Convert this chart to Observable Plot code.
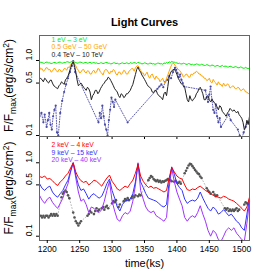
<!DOCTYPE html>
<html><head><meta charset="utf-8">
<script src="https://cdn.jsdelivr.net/npm/d3@7"></script>
<script src="https://cdn.jsdelivr.net/npm/@observablehq/plot@0.6"></script>
<style>
html,body{margin:0;padding:0;background:#fff;}
#chart{position:relative;width:274px;height:274px;font-family:"Liberation Sans",Arial,sans-serif;}
#chart svg{position:absolute;left:0;overflow:visible;background:none;}
</style></head><body><div id="chart"></div>
<script>
// ---- data ----
// top panel, 2 ks sampling 1188..1512
const time2 = [1188,1190,1192,1194,1196,1198,1200,1202,1204,1206,1208,1210,1212,1214,1216,1218,1220,1222,1224,1226,
  1228,1230,1232,1234,1236,1238,1240,1242,1244,1246,1248,1250,1252,1254,1256,1258,1260,1262,1264,1266,
  1268,1270,1272,1274,1276,1278,1280,1282,1284,1286,1288,1290,1292,1294,1296,1298,1300,1302,1304,1306,
  1308,1310,1312,1314,1316,1318,1320,1322,1324,1326,1328,1330,1332,1334,1336,1338,1340,1342,1344,1346,
  1348,1350,1352,1354,1356,1358,1360,1362,1364,1366,1368,1370,1372,1374,1376,1378,1380,1382,1384,1386,
  1388,1390,1392,1394,1396,1398,1400,1402,1404,1406,1408,1410,1412,1414,1416,1418,1420,1422,1424,1426,
  1428,1430,1432,1434,1436,1438,1440,1442,1444,1446,1448,1450,1452,1454,1456,1458,1460,1462,1464,1466,
  1468,1470,1472,1474,1476,1478,1480,1482,1484,1486,1488,1490,1492,1494,1496,1498,1500,1502,1504,1506,1508,1510,1512];
const optical = [.93,.95,.94,.92,.92,.95,.95,.93,.93,.91, .92,.94,.94,.92,.93,.95,.95,.93,.92,.94,
  .94,.96,.96,.94,.95,.97,.98,.95,.94,.92, .93,.95,.95,.93,.92,.94,.94,.92,.93,.95,
  .92,.93,.94,.92,.93,.91,.91,.93,.93,.91, .92,.94,.94,.92,.92,.90,.91,.93,.93,.91,
  .92,.90,.90,.92,.93,.91,.91,.93,.92,.90, .94,.92,.92,.94,.93,.91,.95,.93,.92,.90,
  .91,.93,.92,.90,.90,.92,.92,.90,.91,.89, .90,.92,.92,.90,.91,.89,.93,.91,.94,.92,
  .96,.94,.97,.95,.95,.93,.93,.91,.92,.90, .90,.92,.91,.89,.89,.91,.90,.88,.89,.87,
  .88,.90,.89,.87,.87,.89,.88,.86,.86,.88, .87,.85,.85,.87,.86,.84,.84,.86,.85,.83,
  .84,.86,.83,.84,.84,.82,.82,.84,.83,.81, .81,.83,.82,.80,.80,.82,.81,.79,.79,.81, .79,.78,.79];
const gev = [.82,.76,.78,.72,.74,.80,.80,.75,.76,.70, .72,.78,.78,.73,.70,.76,.75,.70,.73,.78,
  .78,.74,.82,.80,.88,.92,.97,.90,.85,.78, .74,.68,.70,.75,.76,.70,.68,.73,.72,.66,
  .66,.72,.74,.68,.70,.78,.77,.70,.68,.64, .72,.76,.75,.70,.66,.72,.70,.76,.73,.66,
  .64,.70,.70,.65,.68,.74,.72,.66,.66,.72, .74,.78,.78,.72,.80,.84,.85,.80,.74,.68,
  .68,.62,.66,.70,.62,.58,.64,.66,.60,.56, .62,.58,.57,.52,.55,.58,.52,.50,.58,.64,
  .72,.80,.88,.92,.90,.84,.80,.76,.74,.70, .66,.60,.62,.66,.65,.60,.60,.66,.64,.68,
  .68,.72,.70,.66,.66,.62,.62,.58,.58,.54, .55,.58,.52,.50,.56,.52,.50,.47,.52,.48,
  .48,.45,.50,.46,.46,.49,.47,.43,.44,.46, .45,.42,.42,.44,.43,.40,.40,.42,.41,.38, .38,.36,.37];
const tev = [.57,.58,.55,.52,.58,.56,.52,.50,.54,.55, .50,.46,.45,.43,.42,.46,.48,.52,.50,.48,
  .55,.58,.62,.70,.80,.90,.97,.85,.70,.55, .46,.48,.50,.47,.44,.42,.40,.44,.42,.38,
  .30,.34,.36,.40,.40,.36,.38,.42,.45,.48, .50,.54,.55,.60,.58,.54,.50,.46,.42,.40,
  .38,.34,.32,.36,.35,.32,.33,.36,.36,.38, .40,.44,.48,.56,.65,.76,.82,.74,.70,.64,
  .60,.56,.52,.48,.45,.44,.42,.38,.37,.40, .40,.36,.34,.33,.32,.30,.36,.38,.34,.45,
  .60,.68,.73,.75,.77,.72,.65,.58,.54,.50, .48,.46,.44,.36,.30,.28,.34,.30,.29,.31,
  .32,.36,.38,.42,.44,.40,.36,.30,.30,.33, .34,.30,.28,.30,.29,.27,.26,.24,.22,.25,
  .24,.21,.20,.19,.18,.20,.21,.23,.22,.21, .22,.21,.20,.21,.19,.18,.17,.15,.12,.13, .16,.14,.18];
// bottom panel, 4 ks sampling 1188..1512
const time = [1188,1192,1196,1200,1204,1208,1212,1216,1220,1224,1228,1232,1236,1240,1244,1248,1252,1256,1260,1264,
  1268,1272,1276,1280,1284,1288,1292,1296,1300,1304,1308,1312,1316,1320,1324,1328,1332,1336,1340,1344,
  1348,1352,1356,1360,1364,1368,1372,1376,1380,1384,1388,1392,1396,1400,1404,1408,1412,1416,1420,1424,
  1428,1432,1436,1440,1444,1448,1452,1456,1460,1464,1468,1472,1476,1480,1484,1488,1492,1496,1500,1504,1508,1512];
const keV2_4 = [.65,.63,.66,.60,.61,.57,.52,.49,.55,.59,.66,.72,.85,1.0,.75,.63,.57,.54,.56,.50,
  .53,.58,.56,.52,.48,.55,.62,.68,.56,.50,.44,.42,.45,.48,.46,.52,.58,.72,.95,.66,
  .56,.50,.46,.48,.45,.46,.44,.42,.40,.42,.62,.86,.75,.66,.62,.60,.50,.43,.42,.44,
  .43,.46,.48,.45,.42,.40,.38,.36,.35,.34,.33,.35,.34,.32,.31,.30,.28,.26,.24,.22,.25,.34];
const keV9_15 = [.52,.45,.42,.46,.48,.40,.36,.34,.38,.42,.50,.58,.78,1.0,.68,.50,.42,.44,.38,.32,
  .36,.38,.35,.33,.35,.42,.52,.60,.42,.33,.25,.22,.27,.30,.31,.32,.38,.55,.97,.55,
  .46,.38,.33,.32,.31,.30,.28,.26,.25,.27,.55,.88,.70,.52,.46,.42,.32,.28,.30,.31,
  .30,.33,.40,.33,.28,.24,.22,.25,.23,.20,.21,.23,.21,.19,.20,.18,.16,.15,.13,.12,.20,.33];
const keV20_40 = [.36,.31,.28,.32,.34,.29,.26,.24,.28,.33,.42,.52,.75,1.0,.62,.40,.30,.32,.27,.21,
  .25,.24,.22,.21,.23,.30,.42,.56,.30,.22,.17,.16,.19,.21,.20,.22,.30,.50,1.0,.42,
  .32,.25,.22,.21,.22,.19,.18,.17,.16,.18,.45,.85,.55,.40,.32,.26,.18,.16,.18,.19,
  .18,.21,.26,.20,.16,.12,.10,.12,.11,.09,.085,.10,.12,.13,.12,.13,.11,.10,.09,.085,.15,.30];
const gammaT = [1188,1191,1194,1196,1199,1201,1203,1205,1207,1209,1211,1213,1215,1217,1220,1223,1226,1229,1232,1235,1238,1240,1243,
  1279,1281,1283,1285,1287,1289,1291,1293,1295,1297,1299,1301,1303,1305,1324,
  1370,1373,1376,1379,1382,1385,1388,1391,1394,1397,1399,1401,1403,1405,1407,1409,1411,
  1444,1446,1448,1450,1452,1454,1456,1458,1460,1462,1464,1466,1468,1480,1483,
  1494,1497,1500,1503,1506,1509];
const gammaV = [.18,.20,.15,.19,.13,.16,.20,.14,.12,.18,.22,.25,.11,.10,.20,.29,.38,.48,.58,.70,.85,.98,.70,
  .15,.20,.17,.25,.18,.14,.12,.10,.16,.22,.32,.28,.24,.30,.15,
  .42,.45,.48,.44,.52,.55,.62,.58,.70,.80,.75,.68,.60,.65,.55,.50,.45,
  .40,.32,.28,.35,.45,.30,.22,.20,.26,.18,.15,.17,.13,.19,.16,
  .12,.10,.09,.11,.13,.15];
const xrayT = [1190,1192,1194,1196,1198,1200,1202,1204,1206,1208,1210,1212,1214,1216,
  1222,1224,1226,1228,1230,1232,1234,
  1240,1242,1244,1246,1248,1250,1252,
  1262,1264,1266,1268,1272,1274,1276,1278,1280,1284,1286,1288,1290,1292,1294,
  1300,1302,1304,1306,1310,1312,1318,1320,1322,1324,1326,1330,1332,1334,1336,1340,1342,1344,
  1356,1358,1360,1362,1364,1366,1368,1370,1372,1374,1376,1378,1380,1382,1384,1386,1390,1392,1396,1398,1400,1402,1404,1406,
  1412,1414,1416,1418,1420,1422,1424,1426,1428,1430,1432,1434,1436,1438,
  1446,1448,1450,1452,1456,1458,1460,1462,
  1474,1476,1478,1480,1482,1484,1486,1488,1490,1492,1494,1496,
  1504,1506,1508];
const xrayV = [.19,.18,.19,.18,.19,.19,.18,.19,.20,.19,.20,.19,.20,.19,
  .34,.38,.40,.42,.40,.36,.33,
  .21,.18,.16,.15,.14,.15,.16,
  .19,.20,.22,.21,.20,.22,.24,.22,.23,.24,.25,.23,.25,.26,.24,
  .28,.30,.29,.31,.25,.27,.30,.32,.31,.33,.31,.33,.35,.34,.36,.35,.37,.36,
  .58,.62,.66,.64,.60,.58,.56,.58,.55,.57,.54,.56,.55,.57,.58,.60,.58,.56,.55,.57,.54,.53,.55,.52,
  .72,.78,.85,.92,.97,.95,.90,.85,.80,.76,.72,.70,.65,.62,
  .45,.42,.40,.38,.40,.37,.35,.36,
  .24,.23,.24,.22,.23,.22,.23,.22,.23,.24,.22,.23,
  .27,.29,.28];
const xTicks = [1200,1250,1300,1350,1400,1450,1500];
const yTicks = [0.1,0.5,1.0];
const topLegend = ["1 eV \u2013 3 eV","0.5 GeV \u2013 50 GeV","0.4 TeV \u2013 10 TeV"];
const botLegend = ["2 keV \u2013 4 keV","9 keV \u2013 15 keV","20 keV \u2013 40 keV"];

// ---- drawing ----
const FONT = '"Liberation Sans", Arial, sans-serif';
const cols = {optical:"#00ee00", gev:"#ffa500", tev:"#222222", gamma:"#4a4aa8",
  k1:"#ff0000", k2:"#3333ff", k3:"#a033ff", xray:"#555555"};
const topCols = [cols.optical, cols.gev, cols.tev];
const botCols = [cols.k1, cols.k2, cols.k3];
const xOpt = {domain:[1188,1512]};
const pts = (T,V) => T.map((t,i)=>({t, v:V[i]}));
const lineOf = (T, arr, c) => Plot.line(pts(T, arr), {x:"t", y:"v", stroke:c, strokeWidth:1, clip:true});
const yLabels = (fs) => Plot.text(yTicks, {y:d=>d, text:d=>d.toFixed(1), frameAnchor:"left", dx:-10, rotate:-90, fontSize:fs, fill:"#000"});
const legend = (labels, colors, dy0, step) => labels.map((s,i)=>Plot.text([s], {text:d=>d, frameAnchor:"top-left", dx:12, dy:dy0+step*i, fill:colors[i], fontSize:6.8, textAnchor:"start", lineAnchor:"middle"}));

const topPlot = Plot.plot({
  width:274, height:140, marginLeft:39, marginRight:25, marginTop:35, marginBottom:4,
  style:{fontFamily:FONT, background:"none", overflow:"visible"},
  x:{...xOpt, axis:null},
  y:{type:"log", domain:[0.097,2.154], axis:null},
  marks:[
    Plot.line(pts(gammaT,gammaV), {x:"t", y:"v", stroke:cols.gamma, strokeWidth:0.9, strokeDasharray:"1,1.6", clip:true}),
    Plot.dot(pts(gammaT,gammaV), {x:"t", y:"v", fill:cols.gamma, r:1.1, clip:true}),
    lineOf(time2, gev, cols.gev),
    lineOf(time2, tev, cols.tev),
    lineOf(time2, optical, cols.optical),
    Plot.frame({stroke:"#666"}),
    Plot.axisX({ticks:xTicks, tickSize:3, tickFormat:()=>"", label:null}),
    Plot.axisY({ticks:yTicks, tickSize:3, tickFormat:()=>"", label:null}),
    yLabels(8.5),
    ...legend(topLegend, topCols, 4.3, 7.5),
    Plot.text(["Light Curves"], {text:d=>d, frameAnchor:"top", dy:-17.5, fontSize:11, fontWeight:"bold", fill:"#000"})
  ]
});
const botPlot = Plot.plot({
  width:274, height:143, marginLeft:39, marginRight:25, marginTop:5, marginBottom:34,
  style:{fontFamily:FONT, background:"none", overflow:"visible"},
  x:{...xOpt, axis:null},
  y:{type:"log", domain:[0.0874,2.28], axis:null},
  marks:[
    Plot.line(pts(xrayT,xrayV), {x:"t", y:"v", stroke:"#aaaaaa", strokeWidth:0.8, strokeDasharray:"1,2", clip:true}),
    Plot.dot(pts(xrayT,xrayV), {x:"t", y:"v", fill:cols.xray, r:1.3, clip:true}),
    lineOf(time, keV20_40, cols.k3),
    lineOf(time, keV9_15, cols.k2),
    lineOf(time, keV2_4, cols.k1),
    Plot.frame({stroke:"#666"}),
    Plot.axisX({ticks:xTicks, tickSize:3, tickPadding:2, fontSize:8.5, label:null, tickFormat:d=>String(d)}),
    Plot.axisY({ticks:yTicks, tickSize:3, tickFormat:()=>"", label:null}),
    yLabels(8.5),
    ...legend(botLegend, botCols, 8.3, 7.6),
    Plot.text(["time(ks)"], {text:d=>d, frameAnchor:"bottom", dy:26, fontSize:11, fill:"#000"})
  ]
});
const chart = document.getElementById("chart");
topPlot.style.top = "0px";
botPlot.style.top = "131px";
chart.appendChild(topPlot);
chart.appendChild(botPlot);

// y-axis titles with sub/superscripts
function yTitle(svg, cy) {
  const t = d3.select(svg).append("text")
    .attr("transform", `translate(13,${cy}) rotate(-90)`)
    .attr("text-anchor","middle").attr("font-size",12).attr("fill","#000")
    .style("font-family", FONT);
  t.append("tspan").text("F/F");
  t.append("tspan").attr("font-size",8.5).attr("dy",3).text("max");
  t.append("tspan").attr("dy",-3).text("(erg/s/cm");
  t.append("tspan").attr("font-size",8.5).attr("dy",-4.5).text("2");
  t.append("tspan").attr("dy",4.5).text(")");
}
yTitle(topPlot, 85.5);
yTitle(botPlot, 57);
</script></body></html>
